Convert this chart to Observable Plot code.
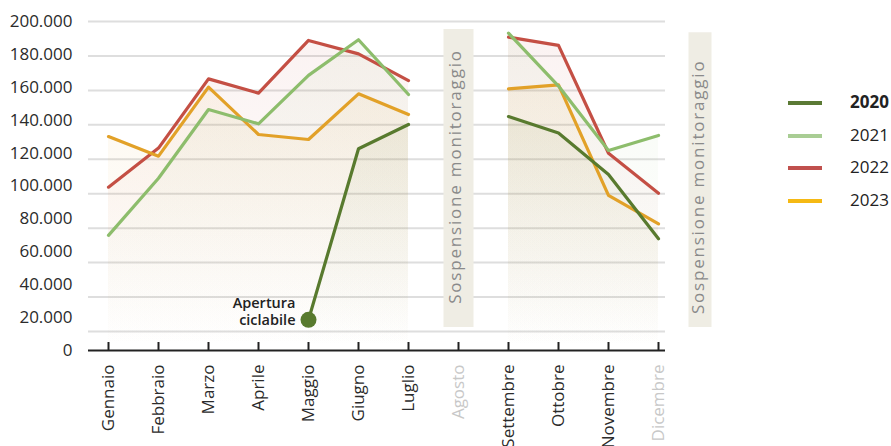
<!DOCTYPE html>
<html>
<head>
<meta charset="utf-8">
<script src="https://cdn.jsdelivr.net/npm/d3@7"></script>
<script src="https://cdn.jsdelivr.net/npm/@observablehq/plot@0.6"></script>
<style>
  html, body { margin: 0; padding: 0; background: #fff; }
  #wrap { position: relative; width: 891px; height: 446px; font-family: "Open Sans", sans-serif; }
  #legend { position: absolute; left: 788px; top: 86px; }
  .item { position: relative; height: 32.7px; width: 103px; }
  .item .sw { position: absolute; left: 0; top: 15px; width: 34px; height: 4px; }
  .item .lb { position: absolute; left: 62px; top: 4px; font-size: 17px; line-height: 24px; color: #222; }
  [aria-label="suspension"], [aria-label="suspension"] tspan { letter-spacing: 1.8px; }
</style>
</head>
<body>
<div id="wrap"></div>
<script>
// ---- data ----
const months = ["Gennaio","Febbraio","Marzo","Aprile","Maggio","Giugno","Luglio","Agosto","Settembre","Ottobre","Novembre","Dicembre"];
const years = ["2020","2021","2022","2023"];
const v2020 = [null,null,null,null,26800,126100,140200,null,144800,135200,111200,73800];
const v2021 = [75800,109000,148900,140600,168700,189400,157600,null,193200,162500,125100,133800];
const v2022 = [103800,126500,166700,158400,189000,181200,165700,null,190900,186100,123500,100300];
const v2023 = [133200,121800,161900,134400,131500,158000,146000,null,160900,163200,99000,82500];
const lineColors = ["#587a2e","#8dbd6c","#c44f44","#e2a128"];
const legendColors = ["#5b7a35","#a9cd94","#c0504d","#f5b914"];
const yTicks = [0,20000,40000,60000,80000,100000,120000,140000,160000,180000,200000];
const suspendedMonths = ["Agosto","Dicembre"];
const suspendedLabel = "Sospensione monitoraggio";
const annotationText = "Apertura\nciclabile";

// ---- build ----
const series = [v2020, v2021, v2022, v2023];
const rows = years.flatMap((yr, i) => months.map((m, j) => ({year: yr, month: m, value: series[i][j]})));
const byYear = yr => rows.filter(d => d.year === yr);
const fmt = d => d3.format(",")(d).replace(/,/g, ".");
const drawOrder = [2, 3, 1, 0]; // 2022, 2023, 2021, 2020 on top
// the first interval (0–20.000) of the grid is drawn compressed, as in the original
const yt = v => v == null ? v : (v >= 20000 ? v : 20000 - (20000 - v) * (19 / 34.45));
const y0 = yt(0);
// tick labels in the original are evenly spaced from 0 to 200.000 (not aligned to the grid)
const labelY = v => v === 0 ? 0 : y0 + v * (1 - y0 / 200000);

const marks = [];
marks.push(() => {
  const defs = d3.create("svg:defs");
  lineColors.forEach((c, i) => {
    const g = defs.append("linearGradient").attr("id", "grad" + i)
      .attr("x1", 0).attr("x2", 0).attr("y1", 0).attr("y2", 1);
    g.append("stop").attr("offset", "0%").attr("stop-color", c).attr("stop-opacity", 0.07);
    g.append("stop").attr("offset", "100%").attr("stop-color", c).attr("stop-opacity", 0);
  });
  return defs.node();
});
marks.push(Plot.ruleY(yTicks.filter(d => d > 0), {stroke: "#dedede", strokeWidth: 2}));
years.forEach((yr, i) => {
  marks.push(Plot.areaY(byYear(yr), {x: "month", y1: 0, y2: "value", fill: `url(#grad${i})`}));
});
marks.push(Plot.ruleX([suspendedMonths[0]], {x: d => d, y1: 22300, y2: 195300, stroke: "#efede4", strokeWidth: 30}));
marks.push(Plot.ruleX([suspendedMonths[1]], {x: d => d, y1: 22300, y2: 193500, stroke: "#efede4", strokeWidth: 23, dx: 41.5}));
marks.push(Plot.text([suspendedMonths[0]], {x: d => d, y: 110000, text: () => suspendedLabel, rotate: -90, dx: -3, fill: "#8a8a8a", fontSize: 17, ariaLabel: () => "suspension"}));
marks.push(Plot.text([suspendedMonths[1]], {x: d => d, y: 104000, text: () => suspendedLabel, rotate: -90, dx: 40, fill: "#8a8a8a", fontSize: 17, ariaLabel: () => "suspension"}));
drawOrder.forEach(i => {
  marks.push(Plot.line(byYear(years[i]), {x: "month", y: "value", stroke: lineColors[i], strokeWidth: 3.2}));
});
const firstPoint = byYear("2020").find(d => d.value != null);
marks.push(Plot.dot([firstPoint], {x: "month", y: "value", r: 8, fill: lineColors[0]}));
marks.push(Plot.text([firstPoint], {x: "month", y: "value", text: () => annotationText, textAnchor: "end", dx: -13, dy: -9, lineHeight: 1.22, fontSize: 14.5, fontWeight: 600, fill: "#222"}));
marks.push(Plot.ruleY([0], {stroke: "#222", strokeWidth: 2}));
marks.push(Plot.ruleX(months, {x: d => d, y1: 0, y2: 8400, stroke: "#222", strokeWidth: 2}));
marks.push(Plot.text(yTicks, {y: labelY, text: fmt, frameAnchor: "left", textAnchor: "end", dx: -16, fontSize: 17, fill: "#2b2b2b"}));
marks.push(Plot.axisX({tickSize: 0, tickPadding: 14, tickRotate: -90, fontSize: 17, label: null,
  fill: d => suspendedMonths.includes(d) ? "#c8c8c8" : "#2b2b2b"}));

const chart = Plot.plot({
  width: 891,
  height: 446,
  marginLeft: 88,
  marginRight: 226,
  marginTop: 21,
  marginBottom: 96,
  style: {fontFamily: "Open Sans, sans-serif", fontSize: "17px", background: "#fff", overflow: "visible"},
  x: {type: "point", domain: months, range: [106.7, 660], padding: 0},
  y: {type: "linear", transform: yt, domain: [y0, 200000], axis: null},
  marks
});
const wrap = document.getElementById("wrap");
wrap.appendChild(chart);

const legend = document.createElement("div");
legend.id = "legend";
years.forEach((yr, i) => {
  const it = document.createElement("div");
  it.className = "item";
  it.innerHTML = `<div class="sw" style="background:${legendColors[i]}"></div><div class="lb" style="font-weight:${i === 0 ? 700 : 400}">${yr}</div>`;
  legend.appendChild(it);
});
wrap.appendChild(legend);
</script>
</body>
</html>
